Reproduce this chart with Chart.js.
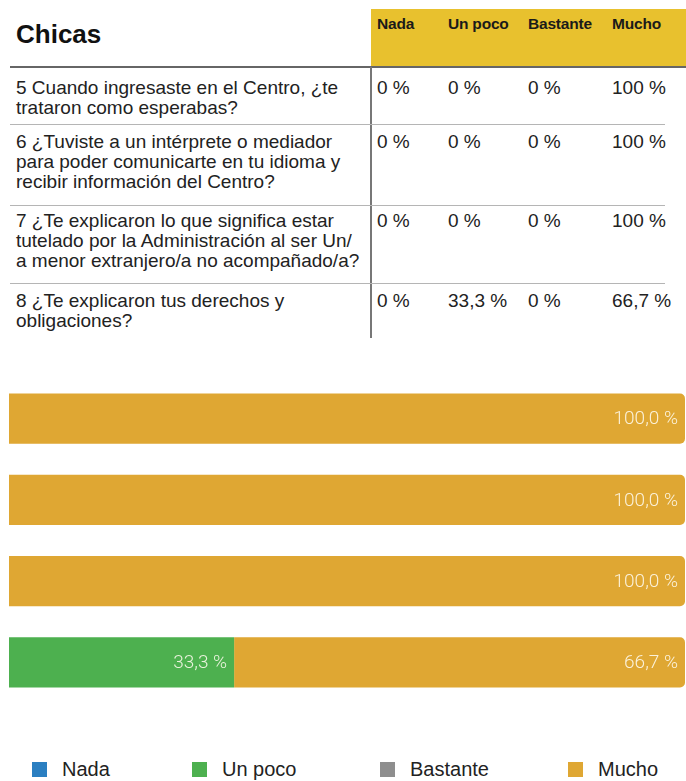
<!DOCTYPE html>
<html lang="es">
<head>
<meta charset="utf-8">
<script src="https://cdn.jsdelivr.net/npm/chart.js@4"></script>
<style>
  body {
    margin: 0;
    width: 686px;
    height: 781px;
    position: relative;
    overflow: hidden;
    background: #fff;
    font-family: "Liberation Sans", Arial, sans-serif;
    color: #222;
  }
  .abs { position: absolute; white-space: nowrap; }
  #titulo { left: 16px; top: 21px; font-size: 26px; line-height: 26px; font-weight: bold; color: #111; }
  #cabecera { left: 371px; top: 9px; width: 315px; height: 58px; background: #e8c12e; }
  .th { top: 15px; font-size: 15.5px; line-height: 18px; font-weight: bold; color: #1a1a1a; letter-spacing: -0.2px; }
  .pregunta { left: 16px; font-size: 19px; line-height: 20px; }
  .valor { font-size: 19px; line-height: 20px; }
  .linea { left: 10px; height: 1px; background: #b5b5b5; }
  #linea-cab { left: 10px; top: 66px; width: 676px; height: 2px; background: #666; }
  #vertical { left: 370px; top: 67px; width: 2px; height: 271px; background: #777; }
  #grafico { left: 0; top: 370px; width: 686px; height: 340px; }
  .ley-caja { width: 15px; height: 15px; top: 762px; }
  .ley-texto { top: 759px; font-size: 20px; line-height: 20px; color: #222; }
</style>
</head>
<body>
<div id="titulo" class="abs">Chicas</div>
<div id="cabecera" class="abs"></div>
<div id="linea-cab" class="abs"></div>
<div id="vertical" class="abs"></div>
<div id="tabla"></div>
<div id="grafico" class="abs"><canvas id="barras"></canvas></div>
<div id="leyenda"></div>

<script>
// Datos de la encuesta (porcentajes por pregunta)
const numeros = ['5', '6', '7', '8'];
const preguntas = [
    ['5 Cuando ingresaste en el Centro, ¿te', 'trataron como esperabas?'],
    ['6 ¿Tuviste a un intérprete o mediador', 'para poder comunicarte en tu idioma y', 'recibir información del Centro?'],
    ['7 ¿Te explicaron lo que significa estar', 'tutelado por la Administración al ser Un/', 'a menor extranjero/a no acompañado/a?'],
    ['8 ¿Te explicaron tus derechos y', 'obligaciones?']
];
const categorias = ['Nada', 'Un poco', 'Bastante', 'Mucho'];
const nada = [0, 0, 0, 0];
const unPoco = [0, 0, 0, 33.3];
const bastante = [0, 0, 0, 0];
const mucho = [100, 100, 100, 66.7];
const colores = ['#2b7fc1', '#4db04f', '#8e8e8e', '#dfa733'];

// Posiciones de la tabla
const columnasX = [377, 448, 528, 612];
const filasLinea = [66, 124, 205, 283];
const filasTexto = [78, 132, 211, 291];
const leyendaX = [32, 192, 380, 568];

function el(cls, text, left, top) {
    const d = document.createElement('div');
    d.className = 'abs ' + cls;
    if (text !== null) d.textContent = text;
    if (left !== null) d.style.left = left + 'px';
    if (top !== null) d.style.top = top + 'px';
    return d;
}

function formatoTabla(v) {
    return (Number.isInteger(v) ? String(v) : v.toFixed(1).replace('.', ',')) + ' %';
}

// Cabecera y filas de la tabla
const tabla = document.getElementById('tabla');
categorias.forEach((c, i) => tabla.appendChild(el('th', c, columnasX[i], null)));

const series = [nada, unPoco, bastante, mucho];
preguntas.forEach((lineas, f) => {
    if (f > 0) {
        const l = el('linea', null, null, filasLinea[f]);
        l.style.width = '655px';
        tabla.appendChild(l);
    }
    const p = el('pregunta', null, null, filasTexto[f]);
    p.innerHTML = lineas.join('<br>');
    tabla.appendChild(p);
    series.forEach((s, i) => tabla.appendChild(el('valor', formatoTabla(s[f]), columnasX[i], filasTexto[f])));
});

// Leyenda
const leyenda = document.getElementById('leyenda');
categorias.forEach((c, i) => {
    const caja = el('ley-caja', null, leyendaX[i], null);
    caja.style.background = colores[i];
    leyenda.appendChild(caja);
    leyenda.appendChild(el('ley-texto', c, leyendaX[i] + 30, null));
});

// Etiquetas de valor dentro de cada barra
const etiquetasBarras = {
    id: 'etiquetasBarras',
    afterDatasetsDraw(chart) {
        const ctx = chart.ctx;
        ctx.save();
        ctx.font = '300 19px Roboto, "Liberation Sans", sans-serif';
        ctx.fillStyle = 'rgba(255, 252, 240, 0.88)';
        ctx.textAlign = 'right';
        ctx.textBaseline = 'middle';
        chart.data.datasets.forEach((ds, i) => {
            chart.getDatasetMeta(i).data.forEach((bar, j) => {
                const v = ds.data[j];
                if (!v) return;
                ctx.fillText(v.toFixed(1).replace('.', ',') + ' %', bar.x - 7, bar.y + 1);
            });
        });
        ctx.restore();
    }
};

new Chart(document.getElementById('barras'), {
    type: 'bar',
    data: {
        labels: numeros,
        datasets: [
            { label: categorias[0], data: nada, backgroundColor: colores[0] },
            { label: categorias[1], data: unPoco, backgroundColor: colores[1] },
            { label: categorias[2], data: bastante, backgroundColor: colores[2] },
            { label: categorias[3], data: mucho, backgroundColor: colores[3], borderRadius: 5 }
        ]
    },
    options: {
        indexAxis: 'y',
        responsive: true,
        maintainAspectRatio: false,
        animation: false,
        layout: { padding: { left: 9, right: 1, top: 8, bottom: 7 } },
        datasets: {
            bar: { categoryPercentage: 0.616, barPercentage: 1, borderWidth: 0 }
        },
        scales: {
            x: { stacked: true, min: 0, max: 100, display: false },
            y: { stacked: true, display: false }
        },
        plugins: {
            legend: { display: false },
            tooltip: { enabled: false }
        }
    },
    plugins: [etiquetasBarras]
});
</script>
</body>
</html>
